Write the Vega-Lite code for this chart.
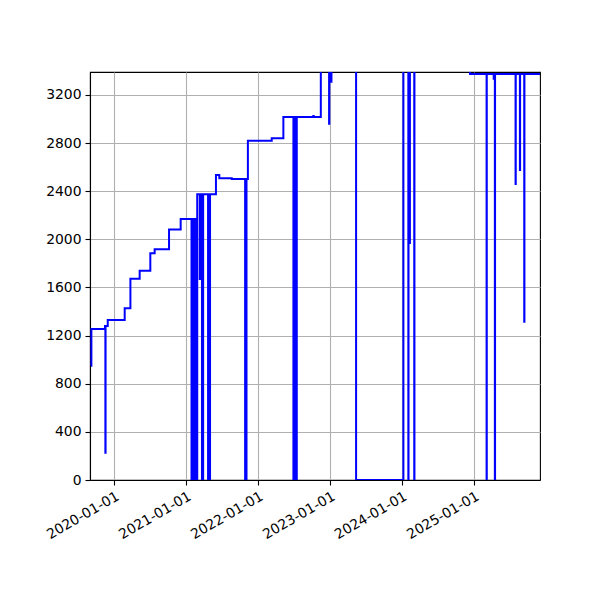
{
 "$schema": "https://vega.github.io/schema/vega-lite/v6.json",
 "width": 450,
 "height": 408,
 "autosize": {"type": "none"},
 "padding": {"left": 90, "top": 72, "right": 60, "bottom": 120},
 "background": "white",
 "config": {"view": {"stroke": "black", "strokeWidth": 1.1}, "font": "DejaVu Sans"},
 "data": {"values": [
  {"date": "2019-09-06", "value": 950},
  {"date": "2019-09-08", "value": 1255},
  {"date": "2019-11-16", "value": 1280},
  {"date": "2019-11-18", "value": 227},
  {"date": "2019-11-19", "value": 1280},
  {"date": "2019-11-30", "value": 1330},
  {"date": "2020-02-24", "value": 1427},
  {"date": "2020-03-24", "value": 1673},
  {"date": "2020-05-10", "value": 1740},
  {"date": "2020-07-03", "value": 1884},
  {"date": "2020-07-25", "value": 1918},
  {"date": "2020-10-06", "value": 2081},
  {"date": "2020-12-04", "value": 2170},
  {"date": "2021-01-28", "value": 0},
  {"date": "2021-01-29", "value": 2170},
  {"date": "2021-02-02", "value": 0},
  {"date": "2021-02-03", "value": 2170},
  {"date": "2021-02-07", "value": 0},
  {"date": "2021-02-08", "value": 2170},
  {"date": "2021-02-12", "value": 0},
  {"date": "2021-02-13", "value": 2170},
  {"date": "2021-02-17", "value": 0},
  {"date": "2021-02-18", "value": 2170},
  {"date": "2021-02-21", "value": 0},
  {"date": "2021-02-22", "value": 2170},
  {"date": "2021-02-25", "value": 0},
  {"date": "2021-02-26", "value": 2375},
  {"date": "2021-03-11", "value": 1670},
  {"date": "2021-03-12", "value": 2375},
  {"date": "2021-03-15", "value": 1670},
  {"date": "2021-03-16", "value": 2375},
  {"date": "2021-03-22", "value": 0},
  {"date": "2021-03-23", "value": 2375},
  {"date": "2021-03-27", "value": 0},
  {"date": "2021-03-28", "value": 2375},
  {"date": "2021-04-22", "value": 0},
  {"date": "2021-04-23", "value": 2375},
  {"date": "2021-05-01", "value": 0},
  {"date": "2021-05-02", "value": 2375},
  {"date": "2021-06-01", "value": 2535},
  {"date": "2021-06-18", "value": 2508},
  {"date": "2021-08-20", "value": 2502},
  {"date": "2021-10-27", "value": 0},
  {"date": "2021-10-28", "value": 2502},
  {"date": "2021-11-02", "value": 0},
  {"date": "2021-11-03", "value": 2502},
  {"date": "2021-11-10", "value": 2820},
  {"date": "2022-03-11", "value": 2840},
  {"date": "2022-05-09", "value": 3017},
  {"date": "2022-06-29", "value": 0},
  {"date": "2022-06-30", "value": 3017},
  {"date": "2022-07-04", "value": 0},
  {"date": "2022-07-05", "value": 3017},
  {"date": "2022-07-08", "value": 0},
  {"date": "2022-07-09", "value": 3017},
  {"date": "2022-07-12", "value": 0},
  {"date": "2022-07-13", "value": 3017},
  {"date": "2022-07-15", "value": 0},
  {"date": "2022-07-16", "value": 3017},
  {"date": "2022-10-08", "value": 3025},
  {"date": "2022-10-10", "value": 3017},
  {"date": "2022-11-15", "value": 3450},
  {"date": "2022-12-27", "value": 2960},
  {"date": "2022-12-28", "value": 3450},
  {"date": "2023-01-03", "value": 3310},
  {"date": "2023-01-04", "value": 3450},
  {"date": "2023-01-07", "value": 3310},
  {"date": "2023-01-08", "value": 3450},
  {"date": "2023-05-13", "value": 0},
  {"date": "2024-01-08", "value": 3450},
  {"date": "2024-02-02", "value": 0},
  {"date": "2024-02-03", "value": 3450},
  {"date": "2024-02-09", "value": 1970},
  {"date": "2024-02-10", "value": 3450},
  {"date": "2024-03-03", "value": 0},
  {"date": "2024-03-04", "value": 3450},
  {"date": "2024-12-11", "value": 3375},
  {"date": "2025-03-05", "value": 0},
  {"date": "2025-03-06", "value": 3375},
  {"date": "2025-04-10", "value": 3335},
  {"date": "2025-04-16", "value": 0},
  {"date": "2025-04-17", "value": 3375},
  {"date": "2025-07-30", "value": 2460},
  {"date": "2025-07-31", "value": 3375},
  {"date": "2025-08-21", "value": 2577},
  {"date": "2025-08-22", "value": 3375},
  {"date": "2025-09-12", "value": 1316},
  {"date": "2025-09-13", "value": 3375},
  {"date": "2025-12-01", "value": 3375}
 ]},
 "mark": {"type": "line", "interpolate": "step-after", "color": "#0000ff", "strokeWidth": 2, "clip": true},
 "encoding": {
  "x": {
   "field": "date", "type": "temporal",
   "scale": {"type": "utc", "domain": [{"year": 2019, "month": 9, "date": 1, "utc": true}, {"year": 2025, "month": 12, "date": 1, "utc": true}]},
   "axis": {
    "title": null,
    "values": [
     {"year": 2020, "month": 1, "date": 1, "utc": true},
     {"year": 2021, "month": 1, "date": 1, "utc": true},
     {"year": 2022, "month": 1, "date": 1, "utc": true},
     {"year": 2023, "month": 1, "date": 1, "utc": true},
     {"year": 2024, "month": 1, "date": 1, "utc": true},
     {"year": 2025, "month": 1, "date": 1, "utc": true}
    ],
    "labelExpr": "utcFormat(datum.value, '%Y-%m-%d')",
    "labelAngle": -30, "labelAlign": "right", "labelBaseline": "top",
    "labelFontSize": 13.9, "labelColor": "black", "labelPadding": 4,
    "labelFlush": false, "labelOverlap": false,
    "tickColor": "black", "tickSize": 5, "tickWidth": 1.1,
    "domainColor": "black", "domainWidth": 1.1,
    "grid": true, "gridColor": "#b0b0b0", "gridWidth": 1.1
   }
  },
  "y": {
   "field": "value", "type": "quantitative",
   "scale": {"domain": [0, 3391], "nice": false, "zero": false},
   "axis": {
    "title": null,
    "values": [0, 400, 800, 1200, 1600, 2000, 2400, 2800, 3200],
    "format": "d",
    "labelFontSize": 13.9, "labelColor": "black", "labelPadding": 4,
    "labelFlush": false, "labelOverlap": false,
    "tickColor": "black", "tickSize": 5, "tickWidth": 1.1,
    "domainColor": "black", "domainWidth": 1.1,
    "grid": true, "gridColor": "#b0b0b0", "gridWidth": 1.1
   }
  }
 }
}
